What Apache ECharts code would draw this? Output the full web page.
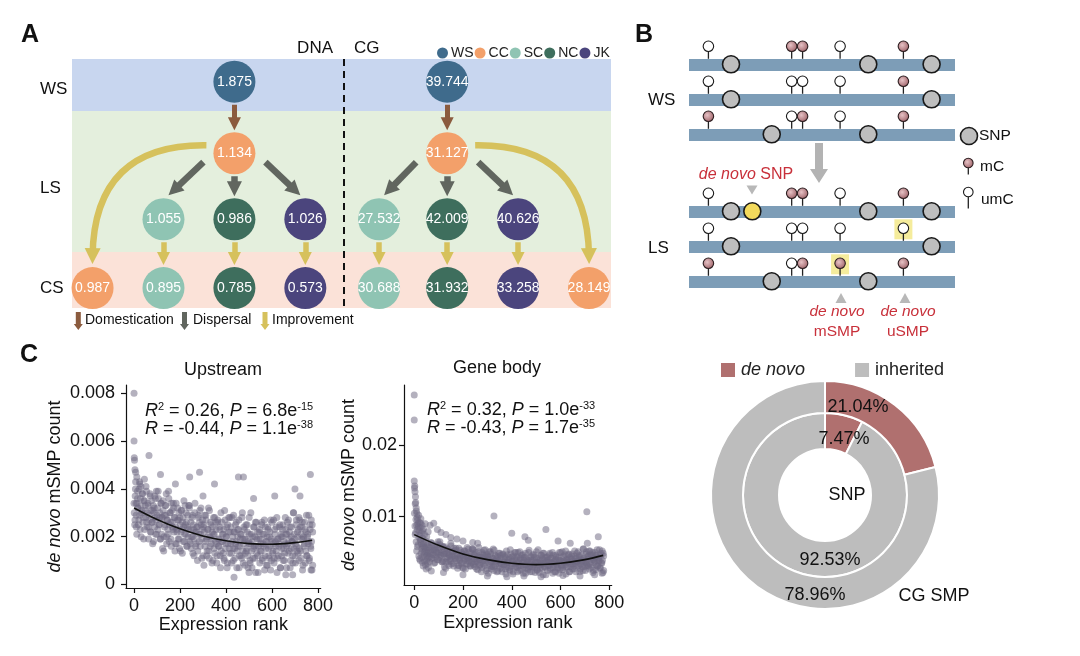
<!DOCTYPE html>
<html><head><meta charset="utf-8">
<script src="https://cdn.jsdelivr.net/npm/echarts@6/dist/echarts.min.js"></script>
<style>html,body{margin:0;padding:0;background:#fff}#c{width:1080px;height:656px}</style>
</head><body><div id="c"></div>
<script>
// ---------------- Panel A data ----------------
const groups = ['WS','CC','SC','NC','JK'];
const groupColors = ['#3F6B8C','#F3A06A','#8FC4B3','#3E6E5D','#4B457D'];
const nodeGroup = ['WS','CC','SC','NC','JK','CC','SC','NC','JK','WS','CC','SC','NC','JK','SC','NC','JK','CC'];
const nodeValue = [1.875,1.134,1.055,0.986,1.026,0.987,0.895,0.785,0.573,39.744,31.127,27.532,42.009,40.626,30.688,31.932,33.258,28.149];
const nodeCol = [2,2,1,2,3,0,1,2,3,5,5,4.04,5,6,4.04,5,6,7];
const nodeRow = [0,1.04,2,2,2,3,3,3,3,0,1.04,2,2,2,3,3,3,3];
const edges = [[0,1,'dom'],[1,2,'disp'],[1,3,'disp'],[1,4,'disp'],[2,6,'imp'],[3,7,'imp'],[4,8,'imp'],[1,5,'curve'],
               [9,10,'dom'],[10,11,'disp'],[10,12,'disp'],[10,13,'disp'],[11,14,'imp'],[12,15,'imp'],[13,16,'imp'],[10,17,'curve']];
const stageLabels = ['WS','LS','CS'];
const stageBands = [[-0.33,0.426],[0.426,2.476],[2.476,3.29]];
const bandColors = ['#C8D6EF','#E4EFDD','#FBE2D8'];
const dividerCol = 3.54;
const arrowLegend = ['Domestication','Dispersal','Improvement'];

// ---------------- Panel B data ----------------
const sitePos = [7.3, 38.6, 42.7, 56.8, 80.6];
const strandRow = [0, 1, 2, 4.2, 5.2, 6.2];
const methyl = [[0,1,1,0,1],[0,0,0,0,1],[1,0,1,0,1],[0,1,1,0,1],[0,0,0,0,0],[1,0,1,1,1]];
const snpPos = [[15.8,67.4,91.2],[15.8,91.2],[31.1,67.4],[15.8,67.4,91.2],[15.8,91.2],[31.1,67.4]];
const newSnp = [[3, 23.8]];
const newSmp = [[4, 4],[5, 3]];

// ---------------- Panel C data ----------------
const rankTicks = [0,200,400,600,800];
const upstreamTicks = [0,0.002,0.004,0.006,0.008];
const genebodyTicks = [0.01,0.02];
const panelTitles = ['Upstream','Gene body'];
const statR2 = ['0.26','0.32'];
const statP1 = [['6.8','-15'],['1.0','-33']];
const statR = ['-0.44','-0.43'];
const statP2 = [['1.1','-38'],['1.7','-35']];
const upstreamPoints = [
[0,.0034],[3,.0025],[6,.004],[9,.0029],[12,.0021],[15,.0036],[18,.0032],[21,.0027],[24,.0043],[27,.0023],[30,.0033],[33,.003],[36,.0038],[39,.0026],[42,.0019],[45,.0035],[48,.0031],[51,.0028],[54,.0039],[57,.0024],
[60,.0034],[63,.0019],[66,.0029],[69,.0038],[72,.0022],[75,.0031],[78,.0026],[81,.0017],[84,.0033],[87,.003],[90,.0024],[93,.0036],[96,.0027],[99,.0021],[102,.0032],[105,.0039],[108,.0025],[111,.0028],[114,.0019],[117,.0034],
[120,.0021],[123,.0028],[126,.0035],[129,.0014],[132,.0029],[135,.0025],[138,.0033],[141,.002],[144,.0027],[147,.0023],[150,.0039],[153,.0018],[156,.003],[159,.0026],[162,.0016],[165,.0031],[168,.0024],[171,.0034],[174,.0022],[177,.0028],
[180,.0017],[183,.0034],[186,.0023],[189,.0027],[192,.0019],[195,.003],[198,.0015],[201,.0025],[204,.0022],[207,.0031],[210,.0013],[213,.0028],[216,.0024],[219,.0018],[222,.0033],[225,.0021],[228,.0026],[231,.0016],[234,.0029],[237,.0023],
[240,.0033],[243,.0018],[246,.0023],[249,.0015],[252,.0028],[255,.002],[258,.0025],[261,.0012],[264,.003],[267,.0022],[270,.0017],[273,.0024],[276,.001],[279,.0029],[282,.0021],[285,.0026],[288,.0016],[291,.0032],[294,.0019],[297,.0023],
[300,.0012],[303,.0025],[306,.0022],[309,.0016],[312,.0029],[315,.0019],[318,.0014],[321,.0023],[324,.0032],[327,.0011],[330,.002],[333,.0026],[336,.0017],[339,.0009],[342,.0024],[345,.0021],[348,.0015],[351,.0028],[354,.0018],[357,.0023],
[360,.0009],[363,.0026],[366,.0019],[369,.0016],[372,.0024],[375,.0012],[378,.003],[381,.0018],[384,.0021],[387,.0013],[390,.0023],[393,.001],[396,.0027],[399,.0017],[402,.002],[405,.0007],[408,.0025],[411,.0022],[414,.0015],[417,.0028],
[420,.0017],[423,.0013],[426,.0028],[429,.002],[432,.001],[435,.0022],[438,.0015],[441,.0025],[444,.0018],[447,.0007],[450,.0023],[453,.0016],[456,.0027],[459,.0012],[462,.0019],[465,.0021],[468,.0011],[471,.003],[474,.0014],[477,.0017],
[480,.0023],[483,.0008],[486,.0019],[489,.0014],[492,.0025],[495,.0012],[498,.0018],[501,.0028],[504,.001],[507,.0017],[510,.0021],[513,.0007],[516,.002],[519,.0015],[522,.0024],[525,.0011],[528,.0026],[531,.0016],[534,.0013],[537,.0022],
[540,.0005],[543,.0019],[546,.0023],[549,.0014],[552,.0017],[555,.0025],[558,.001],[561,.0021],[564,.0016],[567,.0027],[570,.0012],[573,.0018],[576,.0008],[579,.002],[582,.0024],[585,.0015],[588,.0011],[591,.0022],[594,.0006],[597,.0019],
[600,.0026],[603,.0013],[606,.0017],[609,.0009],[612,.0023],[615,.0018],[618,.0014],[621,.0028],[624,.0011],[627,.0019],[630,.0016],[633,.0024],[636,.0007],[639,.0021],[642,.0012],[645,.002],[648,.0025],[651,.0015],[654,.001],[657,.0017],
[660,.0023],[663,.0007],[666,.0021],[669,.0017],[672,.0027],[675,.0014],[678,.0024],[681,.001],[684,.002],[687,.0018],[690,.0012],[693,.003],[696,.0015],[699,.0019],[702,.0009],[705,.0025],[708,.0016],[711,.0022],[714,.0013],[717,.0028],
[720,.0015],[723,.0024],[726,.0011],[729,.0019],[732,.0026],[735,.0008],[738,.002],[741,.0017],[744,.0023],[747,.0014],[750,.0029],[753,.0012],[756,.0021],[759,.0018],[762,.001],[765,.0025],[768,.0016],[771,.0027],[774,.0006],[777,.0022],
[1,.003],[4,.0027],[7,.0043],[10,.0024],[13,.0034],[16,.0032],[19,.0025],[22,.004],[25,.0029],[28,.0036],[31,.002],[34,.0031],[37,.0038],[40,.0028],[43,.0035],[46,.0023],[49,.0033],[52,.0041],[55,.0026],[58,.003],
[61,.0033],[64,.0024],[67,.0027],[70,.0037],[73,.0022],[76,.0035],[79,.0026],[82,.0031],[85,.0018],[88,.0032],[91,.0028],[94,.0021],[97,.0039],[100,.0029],[103,.0023],[106,.0036],[109,.0025],[112,.003],[115,.0019],[118,.0034],
[121,.0028],[124,.0015],[127,.0031],[130,.002],[133,.0024],[136,.0033],[139,.0029],[142,.0017],[145,.0027],[148,.0021],[151,.0036],[154,.0025],[157,.003],[160,.0019],[163,.0034],[166,.0026],[169,.0023],[172,.0032],[175,.0028],[178,.0014],
[181,.0024],[184,.0017],[187,.0022],[190,.0032],[193,.0027],[196,.0019],[199,.0028],[202,.0014],[205,.0031],[208,.0023],[211,.0026],[214,.0018],[217,.0035],[220,.0021],[223,.0025],[226,.003],[229,.0016],[232,.0024],[235,.002],[238,.0033],
[241,.0032],[244,.0017],[247,.0026],[250,.002],[253,.0029],[256,.0013],[259,.0023],[262,.0019],[265,.0034],[268,.0016],[271,.0022],[274,.0024],[277,.0014],[280,.0028],[283,.0018],[286,.0031],[289,.0021],[292,.0025],[295,.0011],[298,.0027],
[301,.0024],[304,.0008],[307,.0029],[310,.0018],[313,.0027],[316,.0012],[319,.002],[322,.0023],[325,.0014],[328,.0031],[331,.0016],[334,.0025],[337,.0019],[340,.0022],[343,.001],[346,.0028],[349,.0021],[352,.0013],[355,.0026],[358,.0017],
[361,.0012],[364,.0027],[367,.0016],[370,.0019],[373,.0023],[376,.0007],[379,.0014],[382,.0026],[385,.0018],[388,.0021],[391,.0011],[394,.0031],[397,.0015],[400,.002],[403,.0024],[406,.0009],[409,.0017],[412,.0028],[415,.0013],[418,.0022],
[421,.0024],[424,.0009],[427,.0018],[430,.0015],[433,.0029],[436,.0022],[439,.0011],[442,.0017],[445,.0026],[448,.0014],[451,.002],[454,.0023],[457,.0007],[460,.0016],[463,.0021],[466,.0012],[469,.0028],[472,.0019],[475,.0009],[478,.0024],
[481,.0019],[484,.0013],[487,.0025],[490,.0015],[493,.0022],[496,.0007],[499,.0017],[502,.0021],[505,.0009],[508,.003],[511,.0014],[514,.0018],[517,.0011],[520,.0024],[523,.0016],[526,.002],[529,.0005],[532,.0026],[535,.0019],[538,.0012],
[541,.0016],[544,.0022],[547,.0009],[550,.0019],[553,.0014],[556,.0026],[559,.0011],[562,.0017],[565,.0021],[568,.0006],[571,.0024],[574,.0015],[577,.0018],[580,.0008],[583,.0023],[586,.0012],[589,.002],[592,.0016],[595,.0027],[598,.001],
[601,.0018],[604,.0014],[607,.0027],[610,.0011],[613,.0021],[616,.0016],[619,.0024],[622,.0005],[625,.0019],[628,.0012],[631,.0017],[634,.0025],[637,.0007],[640,.002],[643,.0015],[646,.0023],[649,.001],[652,.0018],[655,.0013],[658,.0028],
[661,.0021],[664,.0016],[667,.0026],[670,.0013],[673,.0019],[676,.0022],[679,.0007],[682,.0015],[685,.0024],[688,.0018],[691,.0009],[694,.003],[697,.0021],[700,.0012],[703,.0017],[706,.0027],[709,.0014],[712,.002],[715,.0023],[718,.001],
[721,.0027],[724,.0014],[727,.0021],[730,.0024],[733,.0006],[736,.0019],[739,.0016],[742,.0026],[745,.0009],[748,.0022],[751,.0012],[754,.002],[757,.0017],[760,.0029],[763,.0011],[766,.0023],[769,.0015],[772,.0018],[775,.0025],[777,.0008],
[0,.008],[0,.006],[1,.0053],[2,.0052],[4,.0048],[7,.0047],[12,.0045],[65,.0054],[115,.0046],[25,.0042],[45,.0044],[285,.0047],[242,.0045],[180,.0042],[350,.0042],[454,.0045],[476,.0045],[767,.0046],[700,.004],[722,.0037],[612,.0037],
[435,.0003],[690,.0004],[660,.0004],[770,.0006],[500,.0005],[15,.0039],[30,.0041],[90,.0037],[140,.0038],[300,.0037],[520,.0036],[5,.0037],[8,.0034]
];
const genebodyPoints = [
[0,.015],[2,.0143],[3,.0135],[5,.0128],[6,.012],[8,.0112],[9,.0108],[11,.0104],[12,.0099],[14,.0095],[15,.009],[17,.0086],[18,.0102],[20,.008],[21,.0092],[23,.0074],[24,.0085],[26,.0068],[27,.0097],[29,.0062],
[30,.0078],[32,.0088],[33,.0058],[35,.007],[36,.0052],[38,.0083],[39,.0064],[41,.0047],[42,.0075],[44,.0056],[45,.009],[47,.0044],[48,.0066],[50,.0038],[51,.0072],[53,.005],[54,.0061],[56,.0042],[57,.0079],
[10,.0052],[16,.0061],[22,.0041],[28,.0049],[34,.0036],[40,.0058],[46,.0033],[52,.0046],[58,.0029],[0,.027],[0,.0235],[1,.014],
[1,.0105],[4,.0118],[7,.0096],[10,.0088],[13,.0082],[19,.0071],[25,.0066],[31,.0055],[37,.0062],[43,.0051],[49,.0057],[55,.0048],[4,.0075],[8,.0065],[13,.0058],[19,.0045],[25,.0039],[31,.0043],[37,.0031],[43,.0038],[49,.0027],[55,.0035],[3,.0087],[6,.0078],[59,.0053],[26,.0091],[34,.008],
[60,.0058],[63,.0037],[66,.0051],[69,.0064],[72,.0042],[75,.0054],[78,.0047],[81,.0035],[84,.0057],[87,.0053],[90,.0044],[93,.0061],[96,.0049],[99,.004],[102,.0056],[105,.0065],[108,.0046],[111,.005],[114,.0037],[117,.0058],
[120,.0038],[123,.0048],[126,.0058],[129,.0028],[132,.0049],[135,.0044],[138,.0055],[141,.0037],[144,.0046],[147,.0041],[150,.0063],[153,.0034],[156,.0051],[159,.0045],[162,.0031],[165,.0052],[168,.0042],[171,.0056],[174,.0039],[177,.0048],
[180,.0032],[183,.0056],[186,.0041],[189,.0046],[192,.0035],[195,.005],[198,.0029],[201,.0043],[204,.0039],[207,.0052],[210,.0027],[213,.0048],[216,.0042],[219,.0034],[222,.0055],[225,.0038],[228,.0045],[231,.0031],[234,.0049],[237,.0041],
[240,.0055],[243,.0034],[246,.0041],[249,.003],[252,.0048],[255,.0037],[258,.0044],[261,.0026],[264,.0051],[267,.004],[270,.0033],[273,.0043],[276,.0023],[279,.005],[282,.0039],[285,.0046],[288,.0032],[291,.0054],[294,.0036],[297,.0041],
[300,.0027],[303,.0045],[306,.0041],[309,.0032],[312,.0051],[315,.0037],[318,.003],[321,.0042],[324,.0055],[327,.0025],[330,.0038],[333,.0046],[336,.0034],[339,.0023],[342,.0044],[345,.0039],[348,.0031],[351,.0049],[354,.0035],[357,.0042],
[360,.0023],[363,.0047],[366,.0037],[369,.0033],[372,.0044],[375,.0027],[378,.0052],[381,.0036],[384,.004],[387,.0029],[390,.0043],[393,.0024],[396,.0048],[399,.0034],[402,.0038],[405,.002],[408,.0045],[411,.0041],[414,.0031],[417,.005],
[420,.0035],[423,.0029],[426,.005],[429,.0039],[432,.0025],[435,.0042],[438,.0032],[441,.0046],[444,.0036],[447,.0021],[450,.0043],[453,.0033],[456,.0049],[459,.0028],[462,.0037],[465,.004],[468,.0026],[471,.0053],[474,.003],[477,.0035],
[480,.0044],[483,.0023],[486,.0039],[489,.0032],[492,.0047],[495,.0029],[498,.0037],[501,.0051],[504,.0026],[507,.0036],[510,.0042],[513,.0022],[516,.004],[519,.0033],[522,.0046],[525,.0028],[528,.0049],[531,.0035],[534,.003],[537,.0043],
[540,.0019],[543,.0039],[546,.0044],[549,.0032],[552,.0036],[555,.0047],[558,.0026],[561,.0042],[564,.0035],[567,.005],[570,.0029],[573,.0037],[576,.0023],[579,.004],[582,.0046],[585,.0033],[588,.0028],[591,.0043],[594,.0021],[597,.0039],
[600,.005],[603,.0031],[606,.0037],[609,.0026],[612,.0045],[615,.0038],[618,.0033],[621,.0052],[624,.0029],[627,.004],[630,.0036],[633,.0047],[636,.0023],[639,.0043],[642,.003],[645,.0041],[648,.0048],[651,.0034],[654,.0027],[657,.0037],
[660,.0045],[663,.0023],[666,.0042],[669,.0037],[672,.0051],[675,.0032],[678,.0046],[681,.0027],[684,.0041],[687,.0038],[690,.003],[693,.0055],[696,.0034],[699,.0039],[702,.0025],[705,.0048],[708,.0035],[711,.0044],[714,.0031],[717,.0052],
[720,.0035],[723,.0047],[726,.0029],[729,.004],[732,.005],[735,.0025],[738,.0042],[741,.0038],[744,.0046],[747,.0033],[750,.0054],[753,.0031],[756,.0043],[759,.0039],[762,.0028],[765,.0049],[768,.0036],[771,.0052],[774,.0022],[777,.0045],
[61,.0057],[64,.0044],[67,.0049],[70,.0063],[73,.0042],[76,.006],[79,.0047],[82,.0054],[85,.0036],[88,.0056],[91,.005],[94,.004],[97,.0065],[100,.0051],[103,.0043],[106,.0061],[109,.0046],[112,.0053],[115,.0037],[118,.0058],
[121,.0048],[124,.003],[127,.0052],[130,.0037],[133,.0042],[136,.0055],[139,.0049],[142,.0032],[145,.0046],[148,.0038],[151,.0059],[154,.0044],[157,.0051],[160,.0035],[163,.0056],[166,.0045],[169,.0041],[172,.0053],[175,.0048],[178,.0028],
[181,.0042],[184,.0032],[187,.0039],[190,.0053],[193,.0046],[196,.0035],[199,.0048],[202,.0028],[205,.0052],[208,.0041],[211,.0045],[214,.0034],[217,.0057],[220,.0038],[223,.0043],[226,.005],[229,.0031],[232,.0042],[235,.0036],[238,.0055],
[241,.0054],[244,.0033],[247,.0046],[250,.0037],[253,.005],[256,.0027],[259,.0041],[262,.0036],[265,.0057],[268,.0032],[271,.004],[274,.0043],[277,.0029],[280,.0048],[283,.0034],[286,.0053],[289,.0039],[292,.0044],[295,.0025],[298,.0047],
[301,.0044],[304,.0021],[307,.0051],[310,.0035],[313,.0048],[316,.0027],[319,.0038],[322,.0042],[325,.003],[328,.0053],[331,.0032],[334,.0045],[337,.0037],[340,.0041],[343,.0024],[346,.0049],[349,.0039],[352,.0028],[355,.0046],[358,.0034],
[361,.0027],[364,.0048],[367,.0033],[370,.0037],[373,.0043],[376,.002],[379,.003],[382,.0047],[385,.0036],[388,.004],[391,.0026],[394,.0054],[397,.0031],[400,.0038],[403,.0044],[406,.0023],[409,.0034],[412,.005],[415,.0029],[418,.0041],
[421,.0044],[424,.0023],[427,.0036],[430,.0032],[433,.0051],[436,.0042],[439,.0026],[442,.0035],[445,.0047],[448,.003],[451,.0039],[454,.0043],[457,.0021],[460,.0033],[463,.004],[466,.0028],[469,.005],[472,.0037],[475,.0023],[478,.0044],
[481,.0039],[484,.003],[487,.0047],[490,.0033],[493,.0043],[496,.0022],[499,.0036],[502,.0042],[505,.0025],[508,.0054],[511,.0032],[514,.0037],[517,.0028],[520,.0046],[523,.0035],[526,.004],[529,.0019],[532,.0049],[535,.0039],[538,.0029],
[541,.0035],[544,.0043],[547,.0025],[550,.0039],[553,.0032],[556,.0049],[559,.0028],[562,.0036],[565,.0042],[568,.0021],[571,.0046],[574,.0033],[577,.0037],[580,.0023],[583,.0044],[586,.0029],[589,.004],[592,.0035],[595,.005],[598,.0026],
[601,.0038],[604,.0033],[607,.0051],[610,.0029],[613,.0043],[616,.0036],[619,.0047],[622,.002],[625,.004],[628,.003],[631,.0037],[634,.0048],[637,.0023],[640,.0041],[643,.0034],[646,.0045],[649,.0027],[652,.0038],[655,.0031],[658,.0052],
[661,.0042],[664,.0035],[667,.0049],[670,.0031],[673,.0039],[676,.0044],[679,.0023],[682,.0034],[685,.0046],[688,.0038],[691,.0025],[694,.0055],[697,.0042],[700,.003],[703,.0037],[706,.0051],[709,.0032],[712,.0041],[715,.0045],[718,.0027],
[721,.0052],[724,.0033],[727,.0043],[730,.0047],[733,.0022],[736,.004],[739,.0036],[742,.005],[745,.0026],[748,.0045],[751,.0031],[754,.0042],[757,.0038],[760,.0054],[763,.0029],[766,.0046],[769,.0035],[772,.0039],[775,.0049],[777,.0025],
[65,.0088],[80,.0091],[95,.0082],[110,.0078],[130,.0075],[150,.0071],[175,.0069],[200,.0066],[240,.0064],[260,.0063],[327,.0101],[400,.0077],[454,.0072],[468,.0067],[540,.0082],[708,.0107],[710,.0063],[755,.0072],[590,.0066],[640,.0063],
[70,.0024],[120,.0022],[200,.0019],[300,.0017],[380,.0016],[450,.0017],[520,.0016],[610,.0018],[680,.0017],[740,.0019],[770,.0021]
];
const upstreamFit = [[0,.0032],[100,.00272],[200,.00233],[300,.00203],[400,.00183],[500,.00171],[600,.00168],[700,.00175],[775,.00185]];
const genebodyFit = [[0,.0075],[100,.006],[200,.0048],[300,.004],[400,.0035],[500,.0033],[600,.0035],[700,.004],[775,.0046]];

// ---------------- Donut data ----------------
const shareNames = ['de novo','inherited'];
const shareColors = ['#B0706F','#BDBDBD'];
const snpShare = [7.47, 92.53];
const smpShare = [21.04, 78.96];

// =====================================================
const FF = '"Liberation Sans", Arial, Helvetica, sans-serif';
const INK = '#111';
const RED = '#C8303A';
const chart = echarts.init(document.getElementById('c'));

const PXC = 539 / 7.6, PXR = 249 / 3.62, NR = 21;
const arrowStyle = {
  dom:   {w:5, h:13, color:'#8B5B3E'},
  disp:  {w:6.5, h:15, color:'#61665F'},
  imp:   {w:5.5, h:13, color:'#D6C15C'},
  curve: {w:6.5, h:16, color:'#D6C15C'}
};
function arrowItem(e) {
  const a = e[0], b = e[1], type = e[2];
  const fx = nodeCol[a]*PXC, fy = nodeRow[a]*PXR, tx = nodeCol[b]*PXC, ty = nodeRow[b]*PXR;
  const s = Math.sign(Math.round(tx - fx));
  let sx, sy, ex, ey, ux, uy;
  if (type === 'curve') { sx = fx + s*28; sy = fy - 8; ex = tx; ey = ty - NR - 3; ux = 0; uy = 1; }
  else {
    if (s === 0) { sx = fx; sy = fy + NR + 2; ex = tx; ey = ty - NR - 2; }
    else { sx = fx + s*31; sy = fy + 9; ex = tx - s*5; ey = ty - 24; }
    const L = Math.hypot(ex - sx, ey - sy); ux = (ex - sx)/L; uy = (ey - sy)/L;
  }
  const h = arrowStyle[type].h;
  ex -= ux*h/2; ey -= uy*h/2;
  const item = { coords: [[sx/PXC, sy/PXR],[ex/PXC, ey/PXR]] };
  if (type === 'curve') item.lineStyle = { curveness: 0.5*s };
  return item;
}

function T(text, x, y, opt) {
  return { type:'text', x:x, y:y, silent:true, z:50,
    style: Object.assign({ text:text, fill:INK, fontSize:16, fontFamily:FF, align:'left', verticalAlign:'middle' }, opt || {}) };
}
function vArrow(x, y0, y1, sw, hw, hh, color) {
  return { type:'polygon', silent:true, z:50, shape:{ points:[[x-sw/2,y0],[x+sw/2,y0],[x+sw/2,y1-hh],[x+hw/2,y1-hh],[x,y1],[x-hw/2,y1-hh],[x-sw/2,y1-hh]] }, style:{ fill:color } };
}
function tri(x, y, w, h, up, color) {
  const pts = up ? [[x-w/2,y+h/2],[x+w/2,y+h/2],[x,y-h/2]] : [[x-w/2,y-h/2],[x+w/2,y-h/2],[x,y+h/2]];
  return { type:'polygon', silent:true, z:50, shape:{points:pts}, style:{fill:color} };
}
const mCGrad = new echarts.graphic.RadialGradient(0.4, 0.4, 0.65, [{offset:0,color:'#E6C2C5'},{offset:1,color:'#9C5E64'}]);

const series = [];
series.push({ type:'scatter', xAxisIndex:0, yAxisIndex:0, z:0, silent:true, symbolSize:0, data:[[-5,-5]],
  markArea:{ silent:true, data: stageBands.map((b,i)=>[{ yAxis:b[0], itemStyle:{color:bandColors[i], opacity:1} },{ yAxis:b[1] }]) },
  markLine:{ silent:true, symbol:'none', label:{show:false}, lineStyle:{color:'#111', type:[7,5], width:2}, data:[{ xAxis:dividerCol }] }
});
['dom','disp','imp','curve'].forEach(t => {
  series.push({ type:'lines', coordinateSystem:'cartesian2d', xAxisIndex:0, yAxisIndex:0, z:3, silent:true,
    symbol:['none','triangle'], symbolSize:[1, arrowStyle[t].h],
    lineStyle:{ color:arrowStyle[t].color, width:arrowStyle[t].w, opacity:1 },
    data: edges.filter(e => e[2] === t).map(arrowItem) });
});
groups.forEach((g, gi) => {
  const d = [];
  nodeValue.forEach((v, i) => { if (nodeGroup[i] === g) d.push([nodeCol[i], nodeRow[i], v]); });
  series.push({ type:'scatter', name:g, xAxisIndex:0, yAxisIndex:0, z:4, silent:true, symbolSize:42,
    itemStyle:{ color:groupColors[gi], opacity:1 },
    label:{ show:true, position:'inside', color:'#fff', fontSize:14, fontFamily:FF, formatter: p => p.value[2].toFixed(3) },
    data:d });
});

// panel B
const stemData = [], mData = [], uData = [], snpData = [];
methyl.forEach((st, i) => st.forEach((m, j) => { const pt = [sitePos[j], strandRow[i]]; stemData.push(pt); (m ? mData : uData).push(pt); }));
snpPos.forEach((arr, i) => arr.forEach(p => snpData.push([p, strandRow[i]])));
series.push({ type:'lines', coordinateSystem:'cartesian2d', xAxisIndex:1, yAxisIndex:1, z:1, silent:true, symbol:'none',
  lineStyle:{ color:'#7D9DB7', width:12, opacity:1 }, data: strandRow.map(r => ({ coords:[[0,r],[100,r]] })) });
series.push({ type:'scatter', xAxisIndex:1, yAxisIndex:1, z:2, silent:true, symbol:'rect', symbolSize:[18,20], symbolOffset:[0,-17],
  itemStyle:{ color:'#F5EC9C', opacity:1 }, data: newSmp.map(s => [sitePos[s[1]], strandRow[s[0]]]) });
series.push({ type:'scatter', xAxisIndex:1, yAxisIndex:1, z:3, silent:true, symbol:'rect', symbolSize:[1.3,9], symbolOffset:[0,-10],
  itemStyle:{ color:'#222', opacity:1 }, data: stemData });
series.push({ type:'scatter', xAxisIndex:1, yAxisIndex:1, z:4, silent:true, symbol:'circle', symbolSize:10.5, symbolOffset:[0,-18],
  itemStyle:{ color:mCGrad, borderColor:'#2d1f21', borderWidth:1.1, opacity:1 }, data: mData });
series.push({ type:'scatter', xAxisIndex:1, yAxisIndex:1, z:4, silent:true, symbol:'circle', symbolSize:10.5, symbolOffset:[0,-18],
  itemStyle:{ color:'#fff', borderColor:'#1a1a1a', borderWidth:1.1, opacity:1 }, data: uData });
series.push({ type:'scatter', xAxisIndex:1, yAxisIndex:1, z:4, silent:true, symbolSize:17,
  itemStyle:{ color:'#BEBEBE', borderColor:'#1a1a1a', borderWidth:1.6, opacity:1 }, data: snpData });
series.push({ type:'scatter', xAxisIndex:1, yAxisIndex:1, z:4, silent:true, symbolSize:17,
  itemStyle:{ color:'#F3DA5C', borderColor:'#1a1a1a', borderWidth:1.6, opacity:1 }, data: newSnp.map(s => [s[1], strandRow[s[0]]]) });

// panel C
[[upstreamPoints, upstreamFit],[genebodyPoints, genebodyFit]].forEach((pair, k) => {
  series.push({ type:'scatter', xAxisIndex:2+k, yAxisIndex:2+k, z:2, silent:true, symbolSize:7, large:false,
    itemStyle:{ color:'rgba(112,106,130,0.52)', opacity:1 }, data: pair[0] });
  series.push({ type:'line', xAxisIndex:2+k, yAxisIndex:2+k, z:5, silent:true, smooth:0.4, showSymbol:false, symbol:'none',
    lineStyle:{ color:'#111', width:1.6 }, data: pair[1] });
});

// donut
[[snpShare,[46,82]],[smpShare,[82,114]]].forEach(pair => {
  series.push({ type:'pie', center:[825,495], radius:pair[1], startAngle:90, clockwise:true, silent:true,
    label:{show:false}, labelLine:{show:false}, emphasis:{disabled:true},
    itemStyle:{ borderColor:'#fff', borderWidth:2 },
    data: shareNames.map((n,i) => ({ name:n, value:pair[0][i], itemStyle:{color:shareColors[i]} })) });
});

function cAxisX(k, min, max, gap) {
  return { gridIndex:2+k, type:'value', min:min, max:max,
    axisLine:{ onZero:false, lineStyle:{color:INK, width:1.2} },
    axisTick:{ show:true, customValues:rankTicks, length:5, lineStyle:{color:INK, width:1.2} },
    axisLabel:{ customValues:rankTicks, fontSize:18, color:INK, margin:9, fontFamily:FF },
    splitLine:{show:false},
    name:'Expression rank', nameLocation:'middle', nameGap:gap, nameTextStyle:{ fontSize:18, color:INK, fontFamily:FF } };
}
function cAxisY(k, min, max, ticks, gap, margin) {
  return { gridIndex:2+k, type:'value', min:min, max:max,
    axisLine:{ show:true, onZero:false, lineStyle:{color:INK, width:1.2} },
    axisTick:{ show:true, customValues:ticks, length:5, lineStyle:{color:INK, width:1.2} },
    axisLabel:{ customValues:ticks, fontSize:18, color:INK, margin:margin, fontFamily:FF, formatter: v => v === 0 ? '0' : String(v) },
    splitLine:{show:false},
    name:'{i|de novo} mSMP count', nameLocation:'middle', nameGap:gap,
    nameTextStyle:{ fontSize:18, color:INK, fontFamily:FF, rich:{ i:{ fontStyle:'italic', fontSize:18, color:INK, fontFamily:FF } } } };
}

const graphics = [];
graphics.push(T('A', 30, 35, {fontSize:25, fontWeight:'bold', align:'center'}));
graphics.push(T('B', 644, 35, {fontSize:25, fontWeight:'bold', align:'center'}));
graphics.push(T('C', 29, 355, {fontSize:25, fontWeight:'bold', align:'center'}));
graphics.push(T('DNA', 333, 48, {fontSize:17, align:'right'}));
graphics.push(T('CG', 354, 48, {fontSize:17}));
[89, 188, 288].forEach((y, i) => graphics.push(T(stageLabels[i], 40, y, {fontSize:17})));
[['#8B5B3E',78.3,85],['#61665F',184.5,193],['#D6C15C',265,272]].forEach((a, i) => {
  graphics.push(vArrow(a[1], 312, 330, 5, 9, 6, a[0]));
  graphics.push(T(arrowLegend[i], a[2], 320, {fontSize:14}));
});
graphics.push(T('WS', 648, 100, {fontSize:17}));
graphics.push(T('LS', 648, 248, {fontSize:17}));
graphics.push(vArrow(819, 143, 183, 8, 18, 14, '#B3B3B3'));
graphics.push(T('{i|de novo} SNP', 746, 175, {fontSize:16, fill:RED, align:'center', rich:{ i:{fontStyle:'italic', fontSize:16, fill:RED, fontFamily:FF} }}));
graphics.push(tri(752, 190, 11, 9, false, '#B8B8B8'));
graphics.push(tri(841, 298, 11, 10, true, '#B8B8B8'));
graphics.push(tri(905, 298, 11, 10, true, '#B8B8B8'));
graphics.push(T('de novo', 837, 312, {fontSize:15.5, fill:RED, align:'center', fontStyle:'italic'}));
graphics.push(T('mSMP', 837, 332, {fontSize:15.5, fill:RED, align:'center'}));
graphics.push(T('de novo', 908, 312, {fontSize:15.5, fill:RED, align:'center', fontStyle:'italic'}));
graphics.push(T('uSMP', 908, 332, {fontSize:15.5, fill:RED, align:'center'}));
graphics.push({ type:'circle', silent:true, z:50, shape:{cx:969, cy:136, r:8.5}, style:{fill:'#BEBEBE', stroke:'#1a1a1a', lineWidth:1.6} });
graphics.push(T('SNP', 979, 136, {fontSize:15.5}));
graphics.push({ type:'line', silent:true, z:49, shape:{x1:968.3, y1:166, x2:968.3, y2:174.5}, style:{stroke:'#222', lineWidth:1.3} });
graphics.push({ type:'circle', silent:true, z:50, shape:{cx:968.3, cy:163, r:4.8}, style:{fill:mCGrad, stroke:'#2d1f21', lineWidth:1.1} });
graphics.push(T('mC', 980, 167, {fontSize:15.5}));
graphics.push({ type:'line', silent:true, z:49, shape:{x1:968.3, y1:196.5, x2:968.3, y2:208.5}, style:{stroke:'#222', lineWidth:1.3} });
graphics.push({ type:'circle', silent:true, z:50, shape:{cx:968.3, cy:192, r:4.8}, style:{fill:'#fff', stroke:'#1a1a1a', lineWidth:1.1} });
graphics.push(T('umC', 981, 200, {fontSize:15.5}));
const statRich = {
  n:{ fontSize:18, lineHeight:20, fill:INK, fontFamily:FF },
  i:{ fontSize:18, lineHeight:20, fill:INK, fontStyle:'italic', fontFamily:FF },
  s:{ fontSize:11, lineHeight:12, fill:INK, verticalAlign:'top', fontFamily:FF }
};
[[223,370,145,411],[497,368,427,410]].forEach((p, k) => {
  graphics.push(T(panelTitles[k], p[0], p[1], {fontSize:18, align:'center'}));
  graphics.push(T('{i|R}{s|2}{n| = ' + statR2[k] + ', }{i|P}{n| = ' + statP1[k][0] + 'e}{s|' + statP1[k][1] + '}', p[2], p[3], {rich:statRich}));
  graphics.push(T('{i|R}{n| = ' + statR[k] + ', }{i|P}{n| = ' + statP2[k][0] + 'e}{s|' + statP2[k][1] + '}', p[2], p[3] + 18, {rich:statRich}));
});
const pct = v => v.toFixed(2) + '%';
graphics.push(T(pct(smpShare[0]), 858, 407, {fontSize:18, align:'center'}));
graphics.push(T(pct(snpShare[0]), 844, 439, {fontSize:18, align:'center'}));
graphics.push(T(pct(snpShare[1]), 830, 560, {fontSize:18, align:'center'}));
graphics.push(T(pct(smpShare[1]), 815, 595, {fontSize:18, align:'center'}));
graphics.push(T('SNP', 847, 495, {fontSize:18, align:'center'}));
graphics.push(T('CG SMP', 934, 596, {fontSize:18, align:'center'}));

chart.setOption({
  animation:false,
  textStyle:{ fontFamily:FF },
  legend:[
    { data:groups, left:432, top:41, icon:'circle', itemWidth:11, itemHeight:11, itemGap:1, selectedMode:false,
      textStyle:{ fontSize:14, color:'#222', fontFamily:FF, padding:[0,0,0,-2] } },
    { data:shareNames, left:714, top:356, icon:'rect', itemWidth:16, itemHeight:16, itemGap:48, selectedMode:false,
      formatter: n => n === 'de novo' ? '{i|de novo}' : n,
      textStyle:{ fontSize:18, color:'#222', fontFamily:FF, rich:{ i:{ fontStyle:'italic', fontSize:18, color:'#222', fontFamily:FF } } } }
  ],
  grid:[
    { left:72, top:59, width:539, height:249 },
    { left:689, top:46.8, width:266, height:252 },
    { left:126, top:385, width:194.7, height:203 },
    { left:404, top:385, width:207.7, height:200 }
  ],
  xAxis:[
    { gridIndex:0, type:'value', min:-0.29, max:7.31, show:false },
    { gridIndex:1, type:'value', min:0, max:100, show:false },
    cAxisX(0, -35, 812, 26),
    cAxisX(1, -42, 810, 29)
  ],
  yAxis:[
    { gridIndex:0, type:'value', min:-0.33, max:3.29, inverse:true, show:false },
    { gridIndex:1, type:'value', min:-0.5, max:6.7, inverse:true, show:false },
    cAxisY(0, -0.00015, 0.00835, upstreamTicks, 62, 11),
    cAxisY(1, 0.00046, 0.0284, genebodyTicks, 42, 7)
  ],
  graphic:{ elements: graphics },
  series: series
});
</script></body></html>
